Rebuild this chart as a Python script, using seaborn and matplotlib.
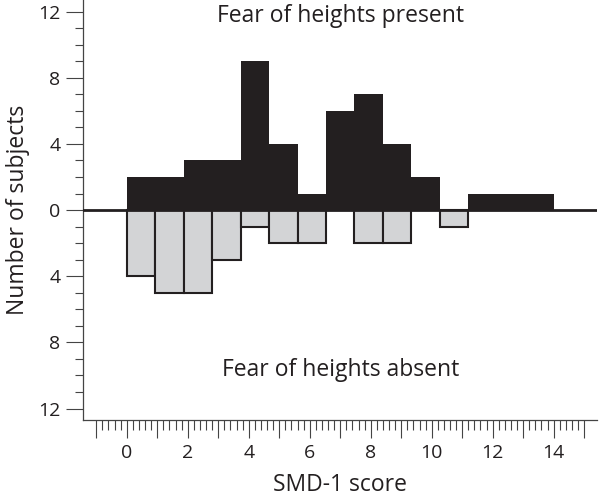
import numpy as np
import pandas as pd
import matplotlib
matplotlib.use("Agg")
import matplotlib.pyplot as plt
from matplotlib.ticker import FixedLocator, FuncFormatter
import seaborn as sns

# ------------------------------
# Data
# ------------------------------
scores = np.arange(0, 15)  # SMD-1 score, one bar per score
present_counts = [2, 2, 3, 3, 9, 4, 1, 6, 7, 4, 2, 0, 1, 1, 1]
absent_counts = [4, 5, 5, 3, 1, 2, 2, 0, 2, 2, 0, 1, 0, 0, 0]

y_major = [-12, -8, -4, 0, 4, 8, 12]
x_labelled = [0, 2, 4, 6, 8, 10, 12, 14]

ink = "#231f20"
grey = "#d3d4d6"

sns.set_style("ticks")
plt.rcParams["font.family"] = ["Open Sans", "DejaVu Sans"]

fig = plt.figure(figsize=(6, 4.96), dpi=100)
ax = fig.add_axes([0.138, 0.153, 0.857, 0.847])

# the 15 score bars fill the span 0..14 on the printed axis
n_bins = len(scores)
width = 14 / n_bins
df = pd.DataFrame({
    "pos": (scores + 0.5) * width,
    "present": present_counts,
    "absent": -np.array(absent_counts),
})

sns.histplot(data=df, x="pos", weights="present", bins=n_bins, binrange=(0, 14),
             color=ink, alpha=1, linewidth=0, ax=ax)
sns.histplot(data=df, x="pos", weights="absent", bins=n_bins, binrange=(0, 14),
             facecolor=grey, edgecolor=ink, alpha=1, linewidth=1.5, ax=ax)

ax.axhline(0, color=ink, lw=2, zorder=4)

ax.set_xlim(-1.44, 15.42)
ax.set_ylim(-12.7, 12.7)

# axes and ticks
ax.yaxis.set_major_locator(FixedLocator(y_major))
ax.yaxis.set_minor_locator(FixedLocator(np.arange(-12, 13, 1)))
ax.yaxis.set_major_formatter(FuncFormatter(lambda v, p: f"{abs(int(v))}"))

ax.xaxis.set_major_locator(FixedLocator(np.arange(-1, 16, 1)))
ax.xaxis.set_minor_locator(FixedLocator(np.arange(-1, 15.01, 0.2)))
ax.xaxis.set_major_formatter(
    FuncFormatter(lambda v, p: f"{int(round(v))}" if round(v) in x_labelled else ""))

ax.tick_params(axis="y", which="major", length=12, width=0.8, pad=4,
               labelsize=14, color="#444444", labelcolor=ink)
ax.tick_params(axis="y", which="minor", length=6, width=0.8, color="#444444")
ax.tick_params(axis="x", which="major", length=13, width=0.8, pad=4,
               labelsize=14, color="#444444", labelcolor=ink)
ax.tick_params(axis="x", which="minor", length=7, width=0.8, color="#444444")

sns.despine(ax=ax)
for side in ["left", "bottom"]:
    ax.spines[side].set_color("#444444")
    ax.spines[side].set_linewidth(0.9)

ax.set_xlabel("SMD-1 score", fontsize=16.5, color=ink, labelpad=8)
ax.set_ylabel("Number of subjects", fontsize=16.5, color=ink, labelpad=6)

ax.text(7, 11.75, "Fear of heights present", ha="center", va="center",
        fontsize=16.5, color=ink)
ax.text(7, -9.7, "Fear of heights absent", ha="center", va="center",
        fontsize=16.5, color=ink)

fig.savefig("out.png", dpi=100)
